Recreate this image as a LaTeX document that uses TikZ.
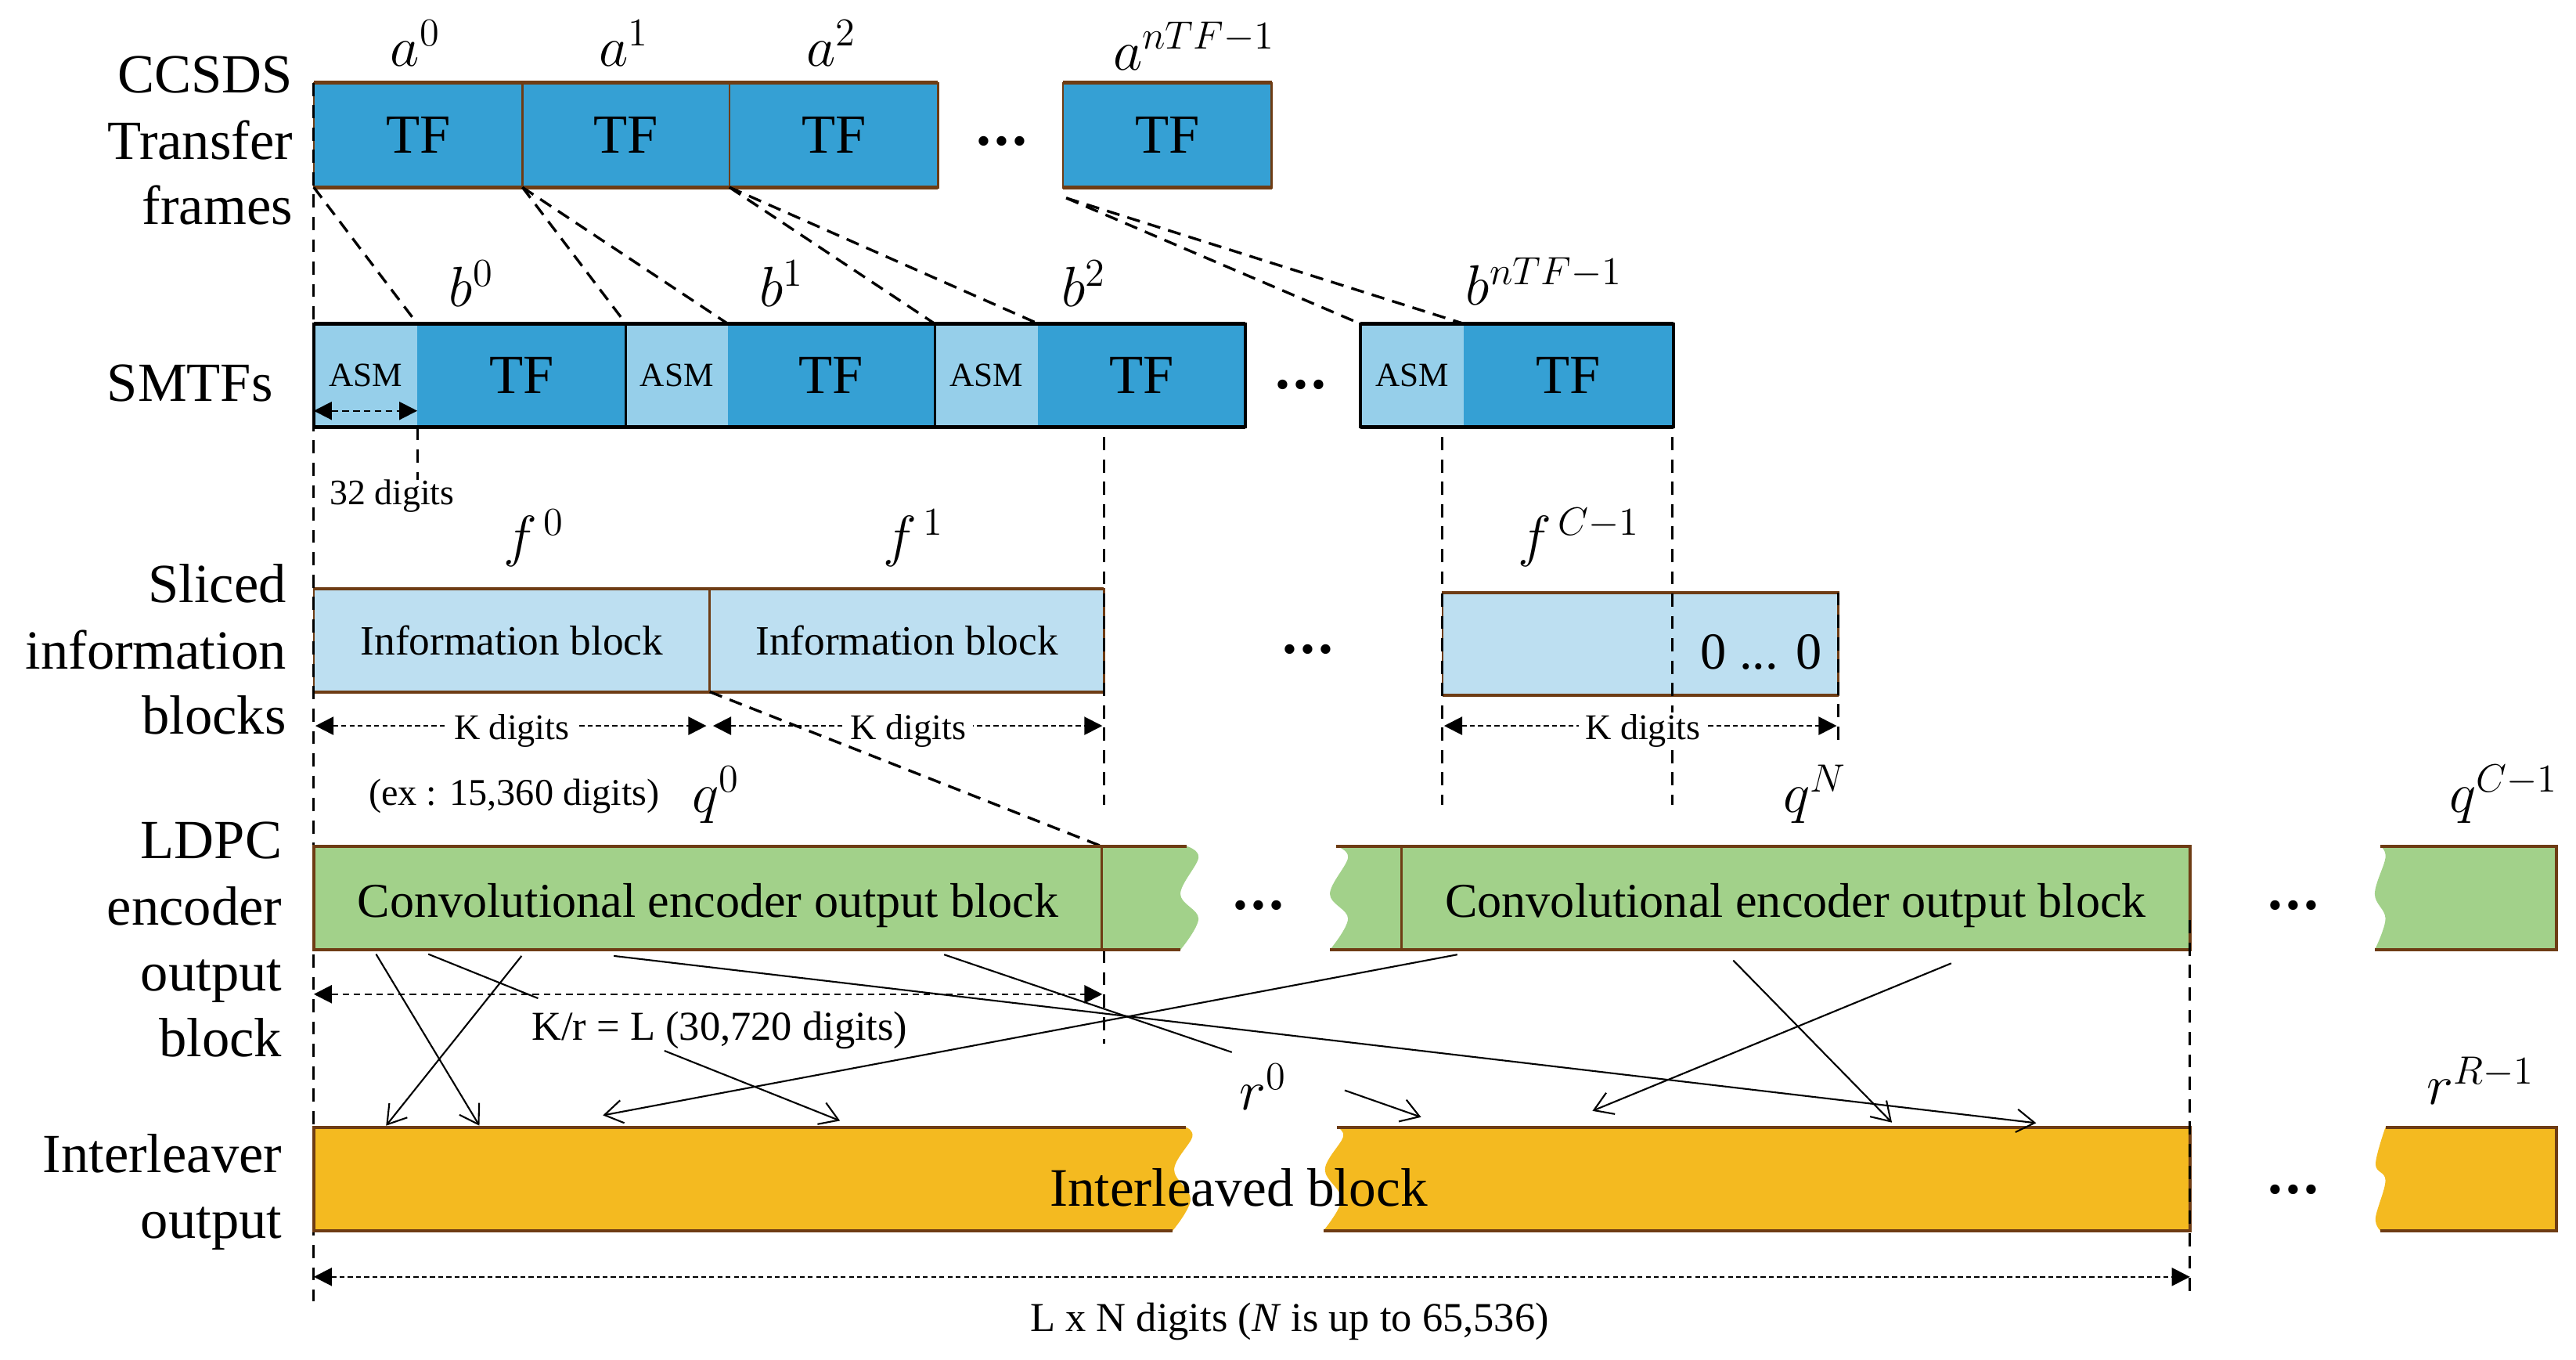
\documentclass[tikz,border=0pt]{standalone}
\usepackage{fontspec}
\setmainfont{Liberation Serif}
\usetikzlibrary{arrows.meta}
\definecolor{tfblue}{RGB}{53,160,212}
\definecolor{asmblue}{RGB}{150,207,234}
\definecolor{infoblue}{RGB}{189,223,241}
\definecolor{ldpcgreen}{RGB}{162,209,138}
\definecolor{ilvorange}{RGB}{244,186,32}
\definecolor{bbrown}{RGB}{110,60,20}
\newcommand{\myfs}[1]{\fontsize{#1}{#1}\selectfont}
\begin{document}
\begin{tikzpicture}[x=0.5pt,y=-0.5pt,
  blk/.style={draw=none,inner sep=0pt,outer sep=0pt,anchor=north west},
  tfA/.style={blk,fill=tfblue,minimum height=31.8pt,font=\myfs{16.8}},
  asmB/.style={blk,fill=asmblue,minimum height=31.5pt,font=\myfs{10.3}},
  tfB/.style={blk,fill=tfblue,minimum height=31.5pt,font=\myfs{16.8}},
  infoC/.style={blk,fill=infoblue,minimum height=31.25pt,font=\myfs{12.7}},
  bthin/.style={draw=bbrown,line width=0.6pt},
  bthick/.style={draw=bbrown,line width=1.1pt},
  lborder/.style={draw=bbrown,line width=0.95pt},
  kthin/.style={draw=black,line width=0.8pt},
  kthick/.style={draw=black,line width=1.2pt},
  conn/.style={dash pattern=on 4pt off 2.5pt,line width=0.8pt},
  vdash/.style={dash pattern=on 4pt off 2.8pt,line width=0.75pt},
  dim/.style={{Triangle[length=5.5pt,width=5.5pt]}-{Triangle[length=5.5pt,width=5.5pt]},dash pattern=on 1.5pt off 1pt,line width=0.5pt},
  dimlbl/.style={anchor=base,fill=white,inner xsep=2pt,inner ysep=0.5pt,font=\myfs{11}},
  txt/.style={anchor=base,inner sep=0pt},
  rowlbl/.style={anchor=base east,inner sep=0pt,font=\myfs{16.8}},
  mlbl/.style={anchor=base,inner sep=0pt,font=\myfs{16.5}},
  ellip/.style={anchor=base,inner sep=0pt,font=\myfs{18}\bfseries},
  ilarr/.style={-{Straight Barb[length=5.5pt,width=7pt]},line width=0.5pt}]
\useasboundingbox (0,0) rectangle (1568,827.6);

% ---------------- row labels
\node[rowlbl] (l1a) at (178.5,56.3) {CCSDS};
\node[rowlbl] (l1b) at (178.5,96.8) {Transfer};
\node[rowlbl] (l1c) at (178.5,136.3) {frames};
\node[rowlbl] (l2a) at (166.5,244.3) {SMTFs};
\node[rowlbl] (l3a) at (174.6,366.8) {Sliced};
\node[rowlbl] (l3b) at (174.6,407) {information};
\node[rowlbl] (l3c) at (174.6,446.8) {blocks};
\node[rowlbl] (l4a) at (172,522.3) {LDPC};
\node[rowlbl] (l4b) at (172,562.7) {encoder};
\node[rowlbl] (l4c) at (172,603) {output};
\node[rowlbl] (l4d) at (172,643.2) {block};
\node[rowlbl] (l5a) at (172,713.3) {Interleaver};
\node[rowlbl] (l5b) at (172,753.4) {output};

% ---------------- row 1: transfer frames
\node[tfA,minimum width=63.5pt] (a0) at (191,50.4) {TF};
\node[tfA,minimum width=63pt] (a1) at (a0.north east) {TF};
\node[tfA,minimum width=63.5pt] (a2) at (a1.north east) {TF};
\node[tfA,minimum width=63.5pt] (aN) at (647,50.4) {TF};
\draw[bthin] (a0.north west) rectangle (a2.south east);
\draw[bthin] (a0.north east) -- (a0.south east) (a1.north east) -- (a1.south east);
\draw[bthick] (a0.north west) -- (a2.north east) (a0.south west) -- (a2.south east);
\draw[bthin] (aN.north west) rectangle (aN.south east);
\draw[bthick] (aN.north west) -- (aN.north east) (aN.south west) -- (aN.south east);
\node[ellip] (e1) at (610,88.5) {.\kern1pt.\kern1pt.};

\node[mlbl] (la0) at (253,40.5) {$a^0$};
\node[mlbl] (la1) at (380,40.5) {$a^1$};
\node[mlbl] (la2) at (506,40.5) {$a^2$};
\node[mlbl] (laN) at (727,42.5) {$a^{nTF-1}$};

% ---------------- row 2: SMTFs
\node[asmB,minimum width=31.5pt] (b0a) at (191,197) {ASM};
\node[tfB,minimum width=63.5pt] (b0t) at (b0a.north east) {TF};
\node[asmB,minimum width=31pt] (b1a) at (b0t.north east) {ASM};
\node[tfB,minimum width=63pt] (b1t) at (b1a.north east) {TF};
\node[asmB,minimum width=31.5pt] (b2a) at (b1t.north east) {ASM};
\node[tfB,minimum width=63pt] (b2t) at (b2a.north east) {TF};
\node[asmB,minimum width=31.5pt] (bNa) at (828,197) {ASM};
\node[tfB,minimum width=63.8pt] (bNt) at (bNa.north east) {TF};
\draw[kthin] (b0a.north west) rectangle (b2t.south east);
\draw[kthin] (b0t.north east) -- (b0t.south east) (b1t.north east) -- (b1t.south east);
\draw[kthick] (b0a.north west) -- (b2t.north east) (b0a.south west) -- (b2t.south east);
\draw[kthin] (bNa.north west) rectangle (bNt.south east);
\draw[kthick] (bNa.north west) -- (bNt.north east) (bNa.south west) -- (bNt.south east);
\node[ellip] (e2) at (792,236.5) {.\kern1pt.\kern1pt.};

\node[mlbl] (lb0) at (287,186.6) {$b^0$};
\node[mlbl] (lb1) at (476,186.6) {$b^1$};
\node[mlbl] (lb2) at (660,186.6) {$b^2$};
\node[mlbl] (lbN) at (940,185.7) {$b^{nTF-1}$};

% connectors row1 -> row2
\coordinate (aNd) at (649,120.5);
\draw[conn] (a0.south west) -- (b0t.north west);
\draw[conn] (a1.south west) -- (b1a.north west);
\draw[conn] (a1.south west) -- (b1t.north west);
\draw[conn] (a2.south west) -- (b2a.north west);
\draw[conn] (a2.south west) -- (b2t.north west);
\draw[conn] (aNd) -- (bNa.north west);
\draw[conn] (aNd) -- (bNt.north west);

% ASM width
\coordinate (asmL) at (191,250);
\coordinate (asmR) at (254,250);
\draw[dim,dash pattern=on 2pt off 1.3pt] (asmL) -- (asmR);
\node[txt,font=\myfs{10.9}] (d32) at (238.6,307.3) {32 digits};

% ---------------- row 3: sliced information blocks
\node[infoC,minimum width=120.5pt] (f0) at (191,358.5) {Information block};
\node[infoC,minimum width=120pt] (f1) at (f0.north east) {Information block};
\node[infoC,minimum width=120.5pt] (fC) at (878,360.5) {};
\node[txt,font=\myfs{15.8}] (zeros) at (1072,407) {0 ... 0};
\draw[bthin] (f0.north west) rectangle (f1.south east);
\draw[bthin] (f0.north east) -- (f0.south east);
\draw[lborder] (f0.north west) -- (f1.north east) (f0.south west) -- (f1.south east);
\draw[bthin] (fC.north west) rectangle (fC.south east);
\draw[lborder] (fC.north west) -- (fC.north east) (fC.south west) -- (fC.south east);
\node[ellip] (e3) at (796,397.5) {.\kern1pt.\kern1pt.};

\node[mlbl] (lf0) at (325,338) {$f^{\,0}$};
\node[mlbl] (lf1) at (556,338) {$f^{\,1}$};
\node[mlbl] (lfC) at (961,338) {$f^{\,C-1}$};

% ---------------- vertical dashed guides
\coordinate (v1b) at (191,792);
\coordinate (v2b) at (254,292);
\coordinate (v3a) at (672,266);  \coordinate (v3b) at (672,490);
\coordinate (v3c) at (672,578);  \coordinate (v3d) at (672,635);
\coordinate (v4a) at (878,266);  \coordinate (v4b) at (878,490);
\coordinate (v5a) at (1018,266); \coordinate (v5b) at (1018,490);
\coordinate (v6b) at (1119,453);
\coordinate (v7a) at (1333,560); \coordinate (v7b) at (1333,787);
\draw[vdash] (a0.north west) -- (v1b);
\draw[vdash] (b0t.south west) -- (v2b);
\draw[vdash] (v3a) -- (v3b);
\draw[vdash] (v3c) -- (v3d);
\draw[vdash] (v4a) -- (v4b);
\draw[vdash] (v5a) -- (v5b);
\draw[vdash] (fC.north east) -- (v6b);

% K digit dimensions
\coordinate (k1a) at (192,441.7); \coordinate (k1b) at (430,441.7);
\coordinate (k2a) at (434,441.7); \coordinate (k2b) at (671,441.7);
\coordinate (k3a) at (879,441.7); \coordinate (k3b) at (1118,441.7);
\draw[dim] (k1a) -- (k1b);
\draw[dim] (k2a) -- (k2b);
\draw[dim] (k3a) -- (k3b);
\node[dimlbl] (kl1) at (311.5,450) {K digits};
\node[dimlbl] (kl2) at (553,450) {K digits};
\node[dimlbl] (kl3) at (1000,450) {K digits};
\node[txt,font=\myfs{11.5}] (ex) at (313,489.8) {(ex : 15,360 digits)};

% info block -> LDPC block
\coordinate (q0div) at (670.6,515);
\draw[conn] (f0.south east) -- (q0div);

% ---------------- row 4: LDPC encoder output
\fill[ldpcgreen] (191,515) -- plot[smooth,tension=0.6] coordinates {(722.5,515) (729.5,522) (718.5,544) (729.5,559) (718.5,578)} -- (191,578) -- cycle;
\draw[lborder] (722.5,515) -- (191,515) -- (191,578) -- (718.5,578);
\fill[ldpcgreen] (1333,515) -- (1333,578) -- plot[smooth,tension=0.6] coordinates {(809.5,578) (820.5,559) (809.5,544) (820.5,522) (813.5,515)} -- cycle;
\draw[lborder] (813.5,515) -- (1333,515) -- (1333,578) -- (809.5,578);
\fill[ldpcgreen] (1556,515) -- (1556,578) -- plot[smooth,tension=0.6] coordinates {(1445.5,578) (1452,559) (1445.5,544) (1452,522) (1449,515)} -- cycle;
\draw[lborder] (1449,515) -- (1556,515) -- (1556,578) -- (1445.5,578);
\draw[bthin] (670.6,515) -- (670.6,578);
\draw[bthin] (853,515) -- (853,578);
\node[txt,font=\myfs{14.8}] (cb1) at (431,558) {Convolutional encoder output block};
\node[txt,font=\myfs{14.8}] (cb2) at (1093,558) {Convolutional encoder output block};
\node[ellip] (e4) at (766,553.5) {.\kern1pt.\kern1pt.};
\node[ellip] (e5) at (1396,553.5) {.\kern1pt.\kern1pt.};
\node[mlbl] (lq0) at (436,494.3) {$q^0$};
\node[mlbl] (lqN) at (1105,494.3) {$q^N$};
\node[mlbl] (lqC) at (1524,494.3) {$q^{C-1}$};

% ---------------- row 5: interleaver output
\fill[ilvorange] (191,686) -- plot[smooth,tension=0.6] coordinates {(722,686) (725.7,692) (714.7,711.7) (724.7,729.8) (713.7,749)} -- (191,749) -- cycle;
\draw[lborder] (722,686) -- (191,686) -- (191,749) -- (713.7,749);
\fill[ilvorange] (1333,686) -- (1333,749) -- plot[smooth,tension=0.6] coordinates {(805.5,749) (816.5,729.8) (806.5,711.7) (817.5,692) (813.8,686)} -- cycle;
\draw[lborder] (813.8,686) -- (1333,686) -- (1333,749) -- (805.5,749);
\fill[ilvorange] (1556,686) -- (1556,749) -- plot[smooth,tension=0.6] coordinates {(1449,749) (1446,741) (1452,718.3) (1446,708.4) (1452,686)} -- cycle;
\draw[lborder] (1452,686) -- (1556,686) -- (1556,749) -- (1449,749);
\node[txt,font=\myfs{16.5}] (ib) at (754,734.2) {Interleaved block};
\node[ellip] (e6) at (1396,726.5) {.\kern1pt.\kern1pt.};
\node[mlbl] (lr0) at (769,675.4) {$r^0$};
\node[mlbl] (lrR) at (1510,672) {$r^{R-1}$};

\draw[vdash] (v7a) -- (v7b);

% ---------------- dimensions K/r and L x N
\coordinate (kr1) at (191,605); \coordinate (kr2) at (671,605);
\draw[dim,dash pattern=on 2pt off 1.4pt] (kr1) -- (kr2);
\node[txt,font=\myfs{12.5}] (krl) at (438,633) {K/r = L (30,720 digits)};
\coordinate (ln1) at (191,777); \coordinate (ln2) at (1333,777);
\draw[dim] (ln1) -- (ln2);
\node[txt,font=\myfs{12.5}] (lnl) at (785,810) {L x N digits (\textit{N} is up to 65,536)};

% ---------------- interleaving arrows
\coordinate (s1) at (228.9,580.6);  \coordinate (t1) at (291.8,685);
\coordinate (s2) at (317.5,581.7);  \coordinate (t2) at (235,685);
\coordinate (s3) at (260.7,580.6);  \coordinate (g3a) at (327.5,607.5);
\coordinate (g3b) at (404.4,639.4); \coordinate (t3) at (511.3,682);
\coordinate (s4) at (373.6,581.7);  \coordinate (t4) at (1239.4,683.4);
\coordinate (s5) at (574.7,580.9);  \coordinate (g5a) at (749.8,640.3);
\coordinate (g5b) at (818.5,663.5); \coordinate (t5) at (865,679.8);
\coordinate (s6) at (887,580.9);    \coordinate (t6) at (367,678.7);
\coordinate (s7) at (1055,584.4);   \coordinate (t7) at (1151.6,683.1);
\coordinate (s8) at (1187.7,586.2); \coordinate (t8) at (969.3,676);
\draw[ilarr] (s1) -- (t1);
\draw[ilarr] (s2) -- (t2);
\draw[ilarr] (s3) -- (g3a) (g3b) -- (t3);
\draw[ilarr] (s4) -- (t4);
\draw[ilarr] (s5) -- (g5a) (g5b) -- (t5);
\draw[ilarr] (s6) -- (t6);
\draw[ilarr] (s7) -- (t7);
\draw[ilarr] (s8) -- (t8);
\end{tikzpicture}
\end{document}
